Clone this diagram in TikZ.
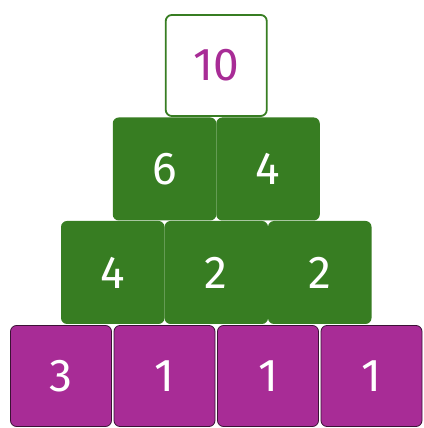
\documentclass[tikz,border=0pt]{standalone}
\usepackage{fontspec}
\setmainfont{Fira Sans}
\usetikzlibrary{positioning, calc}
\definecolor{leafgreen}{HTML}{377D22}
\definecolor{berry}{HTML}{A82C96}
\definecolor{berryline}{HTML}{3C1236}
\tikzset{
  brick/.style = {inner sep = 0pt, outer sep = 0pt, rounded corners = 6pt,
    text = white, font = \fontsize{46}{46}\selectfont},
  base/.style = {brick, draw = berryline, line width = 0.8pt, fill = berry,
    minimum width = 101pt, minimum height = 101pt},
  stone/.style = {brick, fill = leafgreen,
    minimum width = 103.5pt, minimum height = 103pt},
  apex/.style = {brick, draw = leafgreen, line width = 1.8pt, fill = white,
    text = berry, minimum width = 101pt, minimum height = 101pt}
}

\begin{document}
\begin{tikzpicture}[x = 1pt, y = 1pt]
\useasboundingbox (0,0) rectangle (423,428);

%% Bottom row
\node [base] (a1) at (61,52) {3};
\node [base] (a2) [right = 2.5pt of a1] {1};
\node [base] (a3) [right = 2.5pt of a2] {1};
\node [base] (a4) [right = 2.5pt of a3] {1};

%% Second row
\node [stone] (b1) at ($(a1)!0.5!(a2) + (0,103.5)$) {4};
\node [stone] (b2) [right = 0pt of b1] {2};
\node [stone] (b3) [right = 0pt of b2] {2};

%% Third row
\node [stone] (c1) at ($(b1)!0.5!(b2) + (0,103.5)$) {6};
\node [stone] (c2) [right = 0pt of c1] {4};

%% Top
\node [apex] (d) at ($(c1)!0.5!(c2) + (0,103.5)$) {10};

\end{tikzpicture}
\end{document}
